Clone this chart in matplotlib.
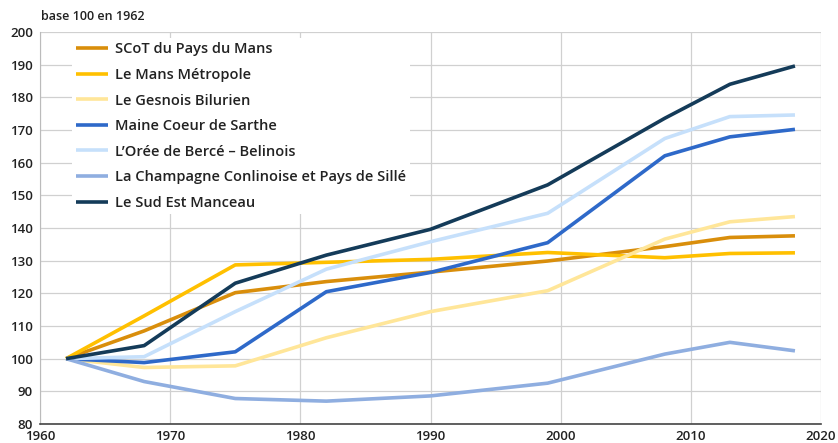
import matplotlib
matplotlib.use("Agg")
import matplotlib.pyplot as plt

plt.rcParams['font.family'] = ['Open Sans', 'DejaVu Sans']

years = [1962, 1968, 1975, 1982, 1990, 1999, 2008, 2013, 2018]
names = ["SCoT du Pays du Mans", "Le Mans Métropole", "Le Gesnois Bilurien",
         "Maine Coeur de Sarthe", "L’Orée de Bercé – Belinois",
         "La Champagne Conlinoise et Pays de Sillé", "Le Sud Est Manceau"]
scot = [100, 108.5, 120.2, 123.6, 126.5, 129.9, 134.3, 137.1, 137.6]
lemans = [100, 113.1, 128.7, 129.5, 130.4, 132.5, 130.9, 132.2, 132.4]
gesnois = [100, 97.3, 97.8, 106.4, 114.4, 120.8, 136.6, 141.9, 143.5]
maine = [100, 98.8, 102.1, 120.5, 126.4, 135.5, 162.1, 167.9, 170.2]
oree = [100, 100.6, 114.4, 127.4, 135.8, 144.5, 167.4, 174.1, 174.6]
champagne = [100, 93.0, 87.8, 87.0, 88.6, 92.5, 101.4, 105.0, 102.4]
sudest = [100, 104.0, 123.1, 131.7, 139.6, 153.2, 173.6, 184.0, 189.6]
series = [scot, lemans, gesnois, maine, oree, champagne, sudest]
colors = ["#D98E0B", "#FFC000", "#FFE699", "#2E69C9", "#C6E0FB", "#8FAEE0", "#143B59"]

x_ticks = [1960, 1970, 1980, 1990, 2000, 2010, 2020]
y_ticks = list(range(80, 201, 10))

fig = plt.figure(figsize=(8.38, 4.43), dpi=100)
ax = fig.add_axes([40/838, 1 - 424/443, (821-40)/838, (424-32)/443])
for name, vals, c in zip(names, series, colors):
    ax.plot(years, vals, color=c, lw=2.6, label=name, solid_capstyle='butt')

ax.set_xlim(1960, 2020)
ax.set_ylim(80, 200)
ax.set_xticks(x_ticks)
ax.set_yticks(y_ticks)
ax.grid(True, color="#D0D0D0", lw=0.9)
ax.set_axisbelow(True)
ax.tick_params(length=0, labelsize=9.5, colors="#222222")
ax.tick_params(axis='y', pad=5)
ax.tick_params(axis='x', pad=4)
for lab in ax.get_xticklabels() + ax.get_yticklabels():
    lab.set_fontweight('semibold')
for s in ["top", "right"]:
    ax.spines[s].set_visible(False)
ax.spines["left"].set_color("#BBBBBB")
ax.spines["bottom"].set_color("#444444")
ax.spines["bottom"].set_linewidth(1.2)

leg = ax.legend(loc="upper left", bbox_to_anchor=(0.031, 1.003), frameon=True,
                prop={'size': 10.5, 'weight': 'semibold'}, handlelength=2.2,
                handletextpad=0.45, labelspacing=0.79, borderpad=0.3)
leg.get_frame().set_facecolor("white")
leg.get_frame().set_edgecolor("none")
leg.get_frame().set_alpha(1)
for t in leg.get_texts():
    t.set_color("#222222")

fig.text(41/838, 1 - 17/443, "base 100 en 1962", fontsize=9, color="#222222",
         va="center", ha="left", fontweight='semibold')

fig.savefig("out.png", dpi=100)
